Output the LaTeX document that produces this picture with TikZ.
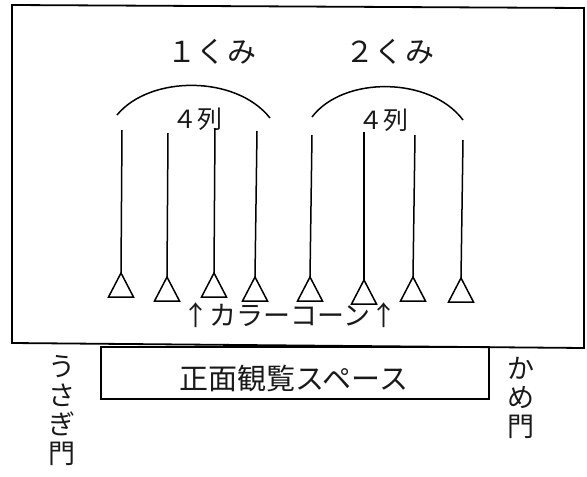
\documentclass[tikz,border=0pt]{standalone}
\usepackage{fontspec}
\setmainfont{Noto Sans CJK JP}
\usetikzlibrary{positioning, calc}

\begin{document}
\begin{tikzpicture}[x=1pt, y=-1pt, line width=1.5pt,
    big text/.style={font=\fontsize{29}{31}\selectfont, text=black!90, inner sep=0pt},
    row text/.style={font=\fontsize{25}{27}\selectfont, text=black!90, inner sep=0pt},
    gate text/.style={font=\fontsize{27}{29}\selectfont, text=black!90, align=center, inner sep=0pt}]
    \useasboundingbox (0,0) rectangle (587,477);

    % the field
    \draw [line width=1.8pt] (12,5) -- (584,8) -- (584,348) -- (12,343) -- cycle;

    % the front viewing space
    \draw [line width=1.6pt] (101,347) rectangle (489,399);
    \node[big text] (front) at (294,378) {正面観覧スペース};

    % groups
    \node[big text] (kumi1) at (212,52) {１くみ};
    \node[big text] (kumi2) at (390,52) {２くみ};
    \draw (117,115) .. controls (150,75) and (236,75) .. (270,118);
    \draw (312,117) .. controls (343,76) and (430,76) .. (463,120);
    \node[row text] (retsu1) at (197,119) {４列};
    \node[row text] (retsu2) at (383,120) {４列};

    % rows: top end and cone
    \coordinate (t1) at (122,130);  \coordinate (c1) at (121,273);
    \coordinate (t2) at (168,133);  \coordinate (c2) at (167,277);
    \coordinate (t3) at (215,128);  \coordinate (c3) at (214,273);
    \coordinate (t4) at (257,131);  \coordinate (c4) at (255,277);
    \coordinate (t5) at (312,135);  \coordinate (c5) at (310,277);
    \coordinate (t6) at (364,132);  \coordinate (c6) at (364,280);
    \coordinate (t7) at (415,135);  \coordinate (c7) at (413,277);
    \coordinate (t8) at (463,140);  \coordinate (c8) at (461,278);
    \foreach \i in {1,...,8} {
        \draw (t\i) -- (c\i);
        \draw (c\i) -- ++(-12.5,24) -- ++(25,0) -- cycle;
    }
    \node[big text, font=\fontsize{27}{29}\selectfont] (cone) at (290,315) {↑カラーコーン↑};

    % gates
    \node[gate text] (usagi) at (62,411) {う\\さ\\ぎ\\門};
    \node[gate text] (kame) at (521,398) {か\\め\\門};
\end{tikzpicture}
\end{document}
